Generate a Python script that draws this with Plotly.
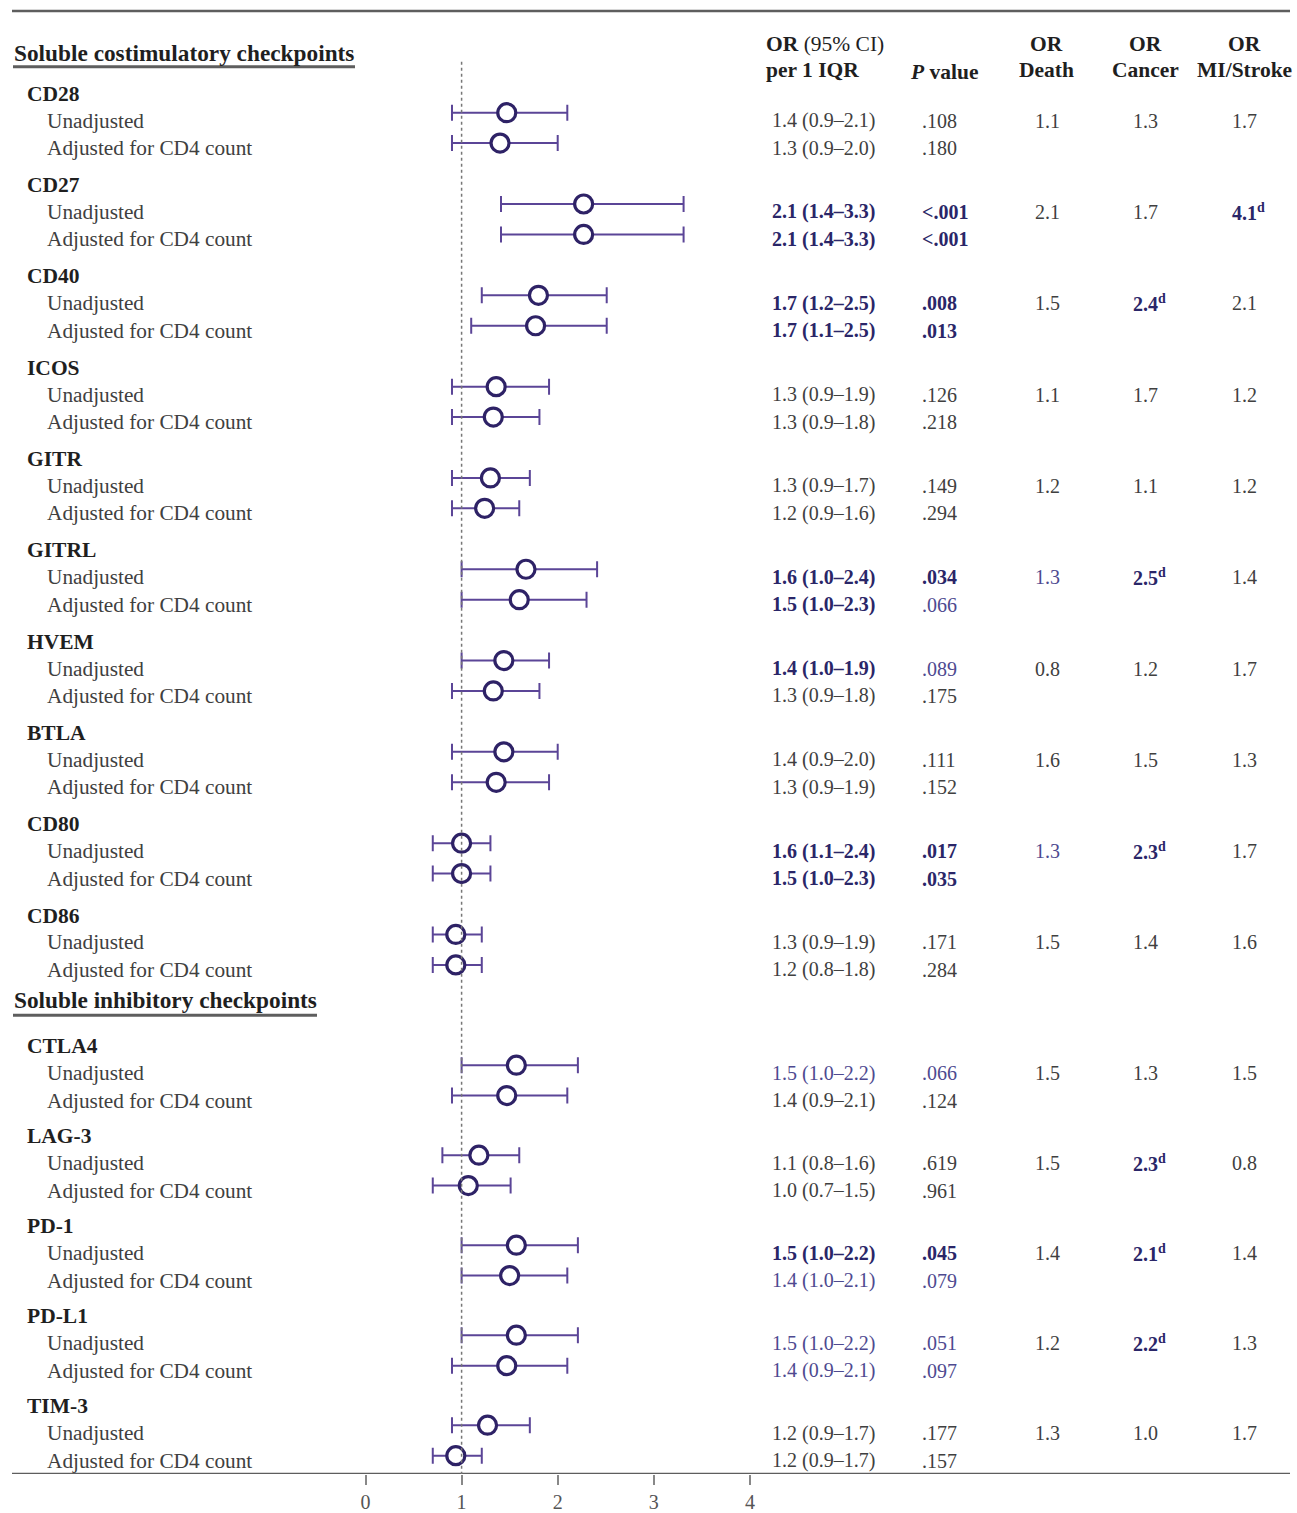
import plotly.graph_objects as go

# ---------------- data ----------------
sections = ["Soluble costimulatory checkpoints", "Soluble inhibitory checkpoints"]
markers = ["CD28", "CD27", "CD40", "ICOS", "GITR", "GITRL", "HVEM", "BTLA", "CD80", "CD86",
           "CTLA4", "LAG-3", "PD-1", "PD-L1", "TIM-3"]
marker_section = [0, 0, 0, 0, 0, 0, 0, 0, 0, 0, 1, 1, 1, 1, 1]

# plotted OR estimates (read from the graphic)
unadj_pt = [1.47, 2.27, 1.80, 1.36, 1.30, 1.67, 1.44, 1.44, 1.00, 0.94, 1.57, 1.18, 1.57, 1.57, 1.27]
unadj_lo = [0.90, 1.41, 1.21, 0.90, 0.90, 1.00, 1.00, 0.90, 0.70, 0.70, 1.00, 0.80, 1.00, 1.00, 0.90]
unadj_hi = [2.10, 3.31, 2.51, 1.91, 1.71, 2.41, 1.91, 2.00, 1.30, 1.21, 2.21, 1.60, 2.21, 2.21, 1.71]
adj_pt = [1.40, 2.27, 1.77, 1.33, 1.24, 1.60, 1.33, 1.36, 1.00, 0.94, 1.47, 1.07, 1.50, 1.47, 0.94]
adj_lo = [0.90, 1.41, 1.10, 0.90, 0.90, 1.00, 0.90, 0.90, 0.70, 0.70, 0.90, 0.70, 1.00, 0.90, 0.70]
adj_hi = [2.00, 3.31, 2.51, 1.81, 1.60, 2.30, 1.81, 1.91, 1.30, 1.21, 2.10, 1.51, 2.10, 2.10, 1.21]

# table text
or_unadj = ["1.4 (0.9\u20132.1)", "2.1 (1.4\u20133.3)", "1.7 (1.2\u20132.5)", "1.3 (0.9\u20131.9)",
            "1.3 (0.9\u20131.7)", "1.6 (1.0\u20132.4)", "1.4 (1.0\u20131.9)", "1.4 (0.9\u20132.0)",
            "1.6 (1.1\u20132.4)", "1.3 (0.9\u20131.9)", "1.5 (1.0\u20132.2)", "1.1 (0.8\u20131.6)",
            "1.5 (1.0\u20132.2)", "1.5 (1.0\u20132.2)", "1.2 (0.9\u20131.7)"]
or_unadj_style = ["n", "b", "b", "n", "n", "b", "b", "n", "b", "n", "l", "n", "b", "l", "n"]
p_unadj = [".108", "&lt;.001", ".008", ".126", ".149", ".034", ".089", ".111", ".017", ".171",
           ".066", ".619", ".045", ".051", ".177"]
p_unadj_style = ["n", "b", "b", "n", "n", "b", "l", "n", "b", "n", "l", "n", "b", "l", "n"]
or_adj = ["1.3 (0.9\u20132.0)", "2.1 (1.4\u20133.3)", "1.7 (1.1\u20132.5)", "1.3 (0.9\u20131.8)",
          "1.2 (0.9\u20131.6)", "1.5 (1.0\u20132.3)", "1.3 (0.9\u20131.8)", "1.3 (0.9\u20131.9)",
          "1.5 (1.0\u20132.3)", "1.2 (0.8\u20131.8)", "1.4 (0.9\u20132.1)", "1.0 (0.7\u20131.5)",
          "1.4 (1.0\u20132.1)", "1.4 (0.9\u20132.1)", "1.2 (0.9\u20131.7)"]
or_adj_style = ["n", "b", "b", "n", "n", "b", "n", "n", "b", "n", "n", "n", "l", "l", "n"]
p_adj = [".180", "&lt;.001", ".013", ".218", ".294", ".066", ".175", ".152", ".035", ".284",
         ".124", ".961", ".079", ".097", ".157"]
p_adj_style = ["n", "b", "b", "n", "n", "l", "n", "n", "b", "n", "n", "n", "l", "l", "n"]
or_death = ["1.1", "2.1", "1.5", "1.1", "1.2", "1.3", "0.8", "1.6", "1.3", "1.5", "1.5", "1.5", "1.4", "1.2", "1.3"]
or_death_style = ["n", "n", "n", "n", "n", "l", "n", "n", "l", "n", "n", "n", "n", "n", "n"]
or_cancer = ["1.3", "1.7", "2.4<sup>d</sup>", "1.7", "1.1", "2.5<sup>d</sup>", "1.2", "1.5",
             "2.3<sup>d</sup>", "1.4", "1.3", "2.3<sup>d</sup>", "2.1<sup>d</sup>", "2.2<sup>d</sup>", "1.0"]
or_cancer_style = ["n", "n", "b", "n", "n", "b", "n", "n", "b", "n", "n", "b", "b", "b", "n"]
or_mi = ["1.7", "4.1<sup>d</sup>", "2.1", "1.2", "1.2", "1.4", "1.7", "1.3", "1.7", "1.6",
         "1.5", "0.8", "1.4", "1.3", "1.7"]
or_mi_style = ["n", "b", "n", "n", "n", "n", "n", "n", "n", "n", "n", "n", "n", "n", "n"]

x_ticks = [0, 1, 2, 3, 4]
row_labels = ["Unadjusted", "Adjusted for CD4 count"]

# ---------------- styling / layout ----------------
W, H = 1297, 1513
FONT = "Liberation Serif"
C_TEXT = "#404040"
C_HEAD = "#1f1f1f"
C_BOLD = "#2a2668"
C_LIGHT = "#4e4a90"
C_BAR = "#5b4597"
C_MARK = "#2e2266"
RULE = "#5e5e5e"
AXIS_BOTTOM = 1478  # pixel row of the axis line

# vertical layout of rows (pixel rows)
y_unadj = []
for i, s in enumerate(marker_section):
    if s == 0:
        y_unadj.append(113 + i * 91.55)
    else:
        j = i - marker_section.index(1)
        y_unadj.append(1068 + j * 90.25)
y_adj = [y + 30.5 for y in y_unadj]

px_per_unit = 96.1
x0_px = 365.5
xr = [-x0_px / px_per_unit, (W - x0_px) / px_per_unit]


def xp(px):
    return px / W


fig = go.Figure()

fig.add_trace(go.Scatter(
    x=unadj_pt + adj_pt,
    y=y_unadj + y_adj,
    mode="markers",
    marker=dict(symbol="circle", size=18, color="white", line=dict(color=C_MARK, width=3.2)),
    error_x=dict(type="data", symmetric=False,
                 array=[h - p for h, p in zip(unadj_hi + adj_hi, unadj_pt + adj_pt)],
                 arrayminus=[p - l for p, l in zip(unadj_pt + adj_pt, unadj_lo + adj_lo)],
                 color=C_BAR, thickness=2, width=8),
    showlegend=False, hoverinfo="skip",
))

style_map = {"n": (C_TEXT, False), "b": (C_BOLD, True), "l": (C_LIGHT, False)}
ann = []


def add_text(text, x_px, y, size=20, color=C_TEXT, bold=False, anchor="left"):
    if bold:
        text = "<b>" + text + "</b>"
    ann.append(dict(text=text, x=xp(x_px), xref="paper", y=y, yref="y",
                    xanchor=anchor, yanchor="middle", showarrow=False,
                    font=dict(family=FONT, size=size, color=color)))


def add_styled(text, st, x_px, y, anchor="left"):
    col, b = style_map[st]
    add_text(text, x_px, y, size=20, color=col, bold=b, anchor=anchor)


# section headers
sec_y = [53, 1003]
for s, name in enumerate(sections):
    add_text(name, 12, sec_y[s], size=23.3, color=C_HEAD, bold=True)

# column headers
add_text("<b>OR</b> (95% CI)", 764, 44, size=21.5, color=C_HEAD)
add_text("per 1 IQR", 764, 70, size=21.5, color=C_HEAD, bold=True)
add_text("<i>P</i> value", 944, 72, size=21.5, color=C_HEAD, bold=True, anchor="center")
for xc, lab in [(1046, "Death"), (1145, "Cancer"), (1244, "MI/Stroke")]:
    add_text("OR", xc, 44, size=21.5, color=C_HEAD, bold=True, anchor="center")
    add_text(lab, xc, 70, size=21.5, color=C_HEAD, bold=True, anchor="center")

for i, m in enumerate(markers):
    yu, ya = y_unadj[i], y_adj[i]
    add_text(m, 25, yu - 19, size=21.5, color=C_HEAD, bold=True)
    add_text(row_labels[0], 45, yu + 8, size=21.3, color=C_TEXT)
    add_text(row_labels[1], 45, ya + 5, size=21.3, color=C_TEXT)
    add_styled(or_unadj[i], or_unadj_style[i], 770, yu + 8)
    add_styled(p_unadj[i], p_unadj_style[i], 920, yu + 8)
    add_styled(or_adj[i], or_adj_style[i], 770, ya + 5)
    add_styled(p_adj[i], p_adj_style[i], 920, ya + 5)
    add_styled(or_death[i], or_death_style[i], 1033, yu + 8)
    add_styled(or_cancer[i], or_cancer_style[i], 1131, yu + 8)
    add_styled(or_mi[i], or_mi_style[i], 1230, yu + 8)

shapes = [
    dict(type="line", xref="paper", yref="y", x0=xp(12), x1=xp(1290), y0=11, y1=11,
         line=dict(color=RULE, width=2.5)),
    dict(type="line", xref="paper", yref="y", x0=xp(12), x1=xp(1290), y0=AXIS_BOTTOM, y1=AXIS_BOTTOM,
         line=dict(color=RULE, width=2.5)),
    dict(type="line", xref="paper", yref="y", x0=xp(13), x1=xp(355), y0=67, y1=67,
         line=dict(color=RULE, width=3)),
    dict(type="line", xref="paper", yref="y", x0=xp(13), x1=xp(317), y0=1018, y1=1018,
         line=dict(color=RULE, width=3)),
    dict(type="line", xref="x", yref="y", x0=1, x1=1, y0=62, y1=AXIS_BOTTOM,
         line=dict(color="#777777", width=1.5, dash="dot"), layer="above"),
]

fig.update_layout(
    width=W, height=H,
    margin=dict(l=0, r=0, t=0, b=0),
    paper_bgcolor="white", plot_bgcolor="white",
    annotations=ann, shapes=shapes,
    xaxis=dict(domain=[0, 1], range=xr, tickvals=x_ticks, ticktext=[str(v) for v in x_ticks],
               ticks="outside", ticklen=10, tickwidth=1.5, tickcolor="#888888",
               tickfont=dict(family=FONT, size=20, color="#555555"),
               showgrid=False, zeroline=False, showline=False, fixedrange=True),
    yaxis=dict(domain=[(H - AXIS_BOTTOM) / H, 1], range=[AXIS_BOTTOM, 0], visible=False,
               showgrid=False, zeroline=False, fixedrange=True),
    font=dict(family=FONT),
)

fig.write_html("out.html", config={"displayModeBar": False},
               post_script="document.body.style.margin='0';document.body.style.overflow='hidden';")
